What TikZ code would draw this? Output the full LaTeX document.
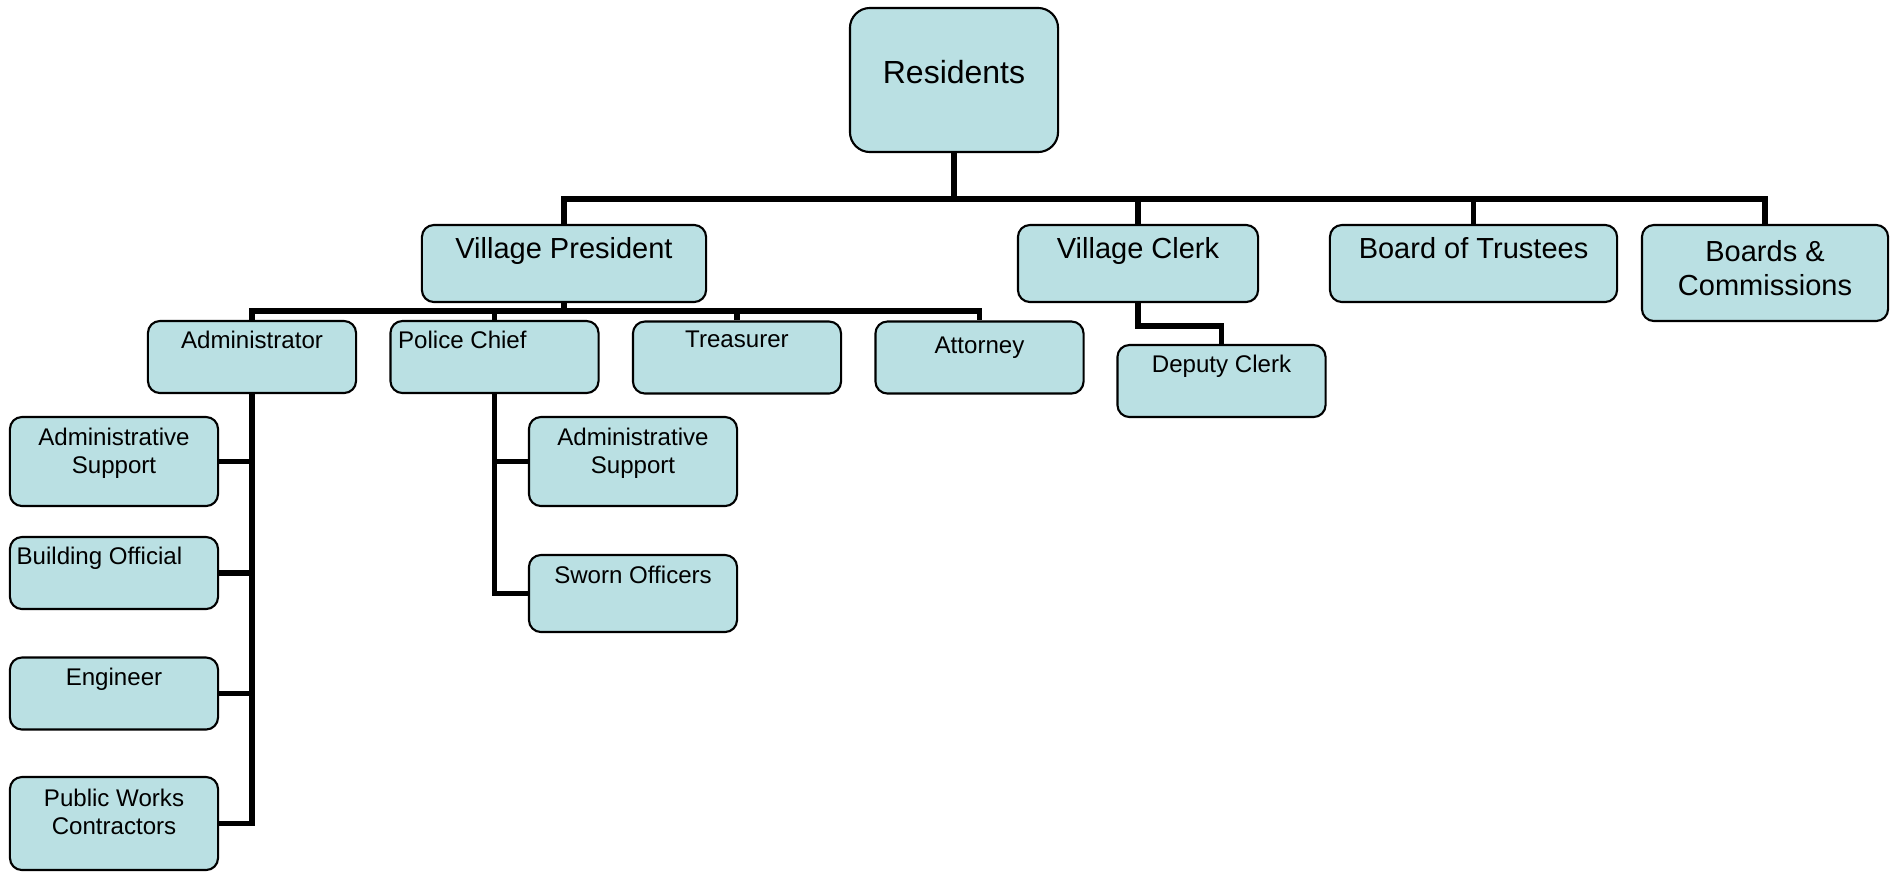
\documentclass[tikz,border=0pt]{standalone}
\usepackage{fontspec}
\setmainfont{Liberation Sans}
\usetikzlibrary{positioning}
\definecolor{boxfill}{RGB}{186,224,227}
\tikzset{
	box/.style={draw,fill=boxfill,line width=0.6pt,rounded corners=0.12cm,inner sep=0pt},
	sm/.style={box,minimum width=2.08cm,minimum height=0.72cm},
	md/.style={box,minimum height=0.77cm},
	conn/.style={line width=1.6pt},
	txt/.style={inner sep=0pt,align=center,font=\fontsize{6.85}{8}\selectfont},
	txtm/.style={txt,font=\fontsize{8.25}{9.7}\selectfont}
}
\begin{document}
\begin{tikzpicture}[x=0.01cm,y=-0.01cm]
	\useasboundingbox (0,0) rectangle (1891,872);
	% top rows
	\node[box,minimum width=2.08cm,minimum height=1.44cm,rounded corners=0.2cm,label={[txt,font=\fontsize{9.1}{11}\selectfont,below=0.53cm]north:Residents}] (res) at (954,80) {};
	\node[md,minimum width=2.84cm,label={[txtm,below=0.13cm]north:Village President}] (vp) at (564,263.5) {};
	\node[md,minimum width=2.40cm,label={[txtm,below=0.13cm]north:Village Clerk}] (vc) at (1138,263.5) {};
	\node[md,minimum width=2.87cm,label={[txtm,below=0.13cm]north:Board of Trustees}] (bt) at (1473.5,263.5) {};
	\node[box,minimum width=2.46cm,minimum height=0.96cm,label={[txtm,below=0.16cm]north:Boards \&\\Commissions}] (bc) at (1765,273) {};
	\node[sm,label={[txt,below=0.10cm]north:Administrator}] (adm) at (252,357) {};
	\node[sm,label={[txt,anchor=north west,xshift=0.08cm,yshift=-0.10cm]north west:Police Chief}] (pc) at (494.5,357) {};
	\node[sm,label={[txt,below=0.10cm]north:Treasurer}] (tr) at (737,357.5) {};
	\node[sm,label={[txt,below=0.16cm]north:Attorney}] (att) at (979.5,357.5) {};
	\node[sm,label={[txt,below=0.10cm]north:Deputy Clerk}] (dc) at (1221.5,381) {};
	% administrator staff
	\node[sm,minimum height=0.89cm,label={[txt,below=0.11cm]north:Administrative\\Support}] (as1) at (114,461.5) {};
	\node[sm,label={[txt,anchor=north west,xshift=0.07cm,yshift=-0.10cm]north west:Building Official}] (bo) at (114,573) {};
	\node[sm,label={[txt,below=0.11cm]north:Engineer}] (en) at (114,693.5) {};
	\node[sm,minimum height=0.93cm,label={[txt,below=0.12cm]north:Public Works\\Contractors}] (pw) at (114,823.5) {};
	% police
	\node[sm,minimum height=0.89cm,label={[txt,below=0.11cm]north:Administrative\\Support}] (as2) at (633,461.5) {};
	\node[sm,minimum height=0.77cm,label={[txt,below=0.11cm]north:Sworn Officers}] (so) at (633,593.5) {};
	% lines
	\coordinate (b1) at (954,199);
	\coordinate (b2) at (564,311);
	\draw[conn] (res.south) -- (b1);
	\draw[conn] (vp.north) |- (b1) -| (bc.north);
	\foreach \n in {vc,bt}\draw[conn] (\n.north) -- (\n.north |- b1);
	\draw[conn] (vp.south) -- (b2);
	\draw[conn] (adm.north) |- (b2) -| (att.north);
	\foreach \n in {pc,tr}\draw[conn] (\n.north) -- (\n.north |- b2);
	\draw[conn] (adm.south) |- (pw.east);
	\foreach \n in {as1,bo,en}\draw[conn] (\n.east) -- (\n.east -| adm.south);
	\draw[conn] (pc.south) |- (so.west);
	\draw[conn] (as2.west) -- (as2.west -| pc.south);
	\draw[conn] (vc.south) -- ++(0,23) -| (dc.north);
\end{tikzpicture}
\end{document}
